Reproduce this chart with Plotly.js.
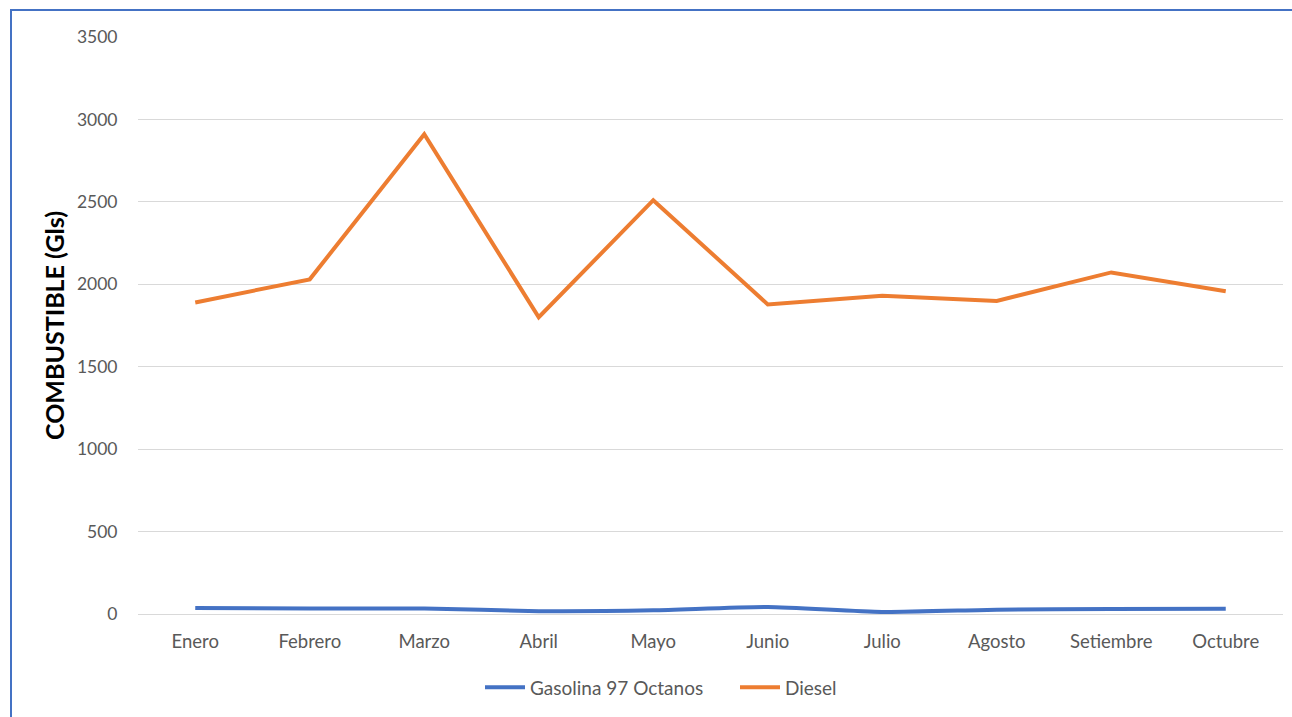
<!DOCTYPE html>
<html>
<head>
<meta charset="utf-8">
<script src="https://cdn.plot.ly/plotly-3.0.1.min.js"></script>
<style>
  html, body { margin: 0; padding: 0; background: #fff; }
  #wrap { position: relative; width: 1292px; height: 717px; overflow: hidden; }
  #chart { width: 1292px; height: 717px; }
  #frame { position: absolute; left: 10px; top: 9px; width: 1400px; height: 800px;
           border-left: 2px solid #4472C4; border-top: 2px solid #4472C4; pointer-events: none; }
</style>
</head>
<body>
<div id="wrap">
  <div id="chart"></div>
  <div id="frame"></div>
</div>
<script>
const months = ["Enero", "Febrero", "Marzo", "Abril", "Mayo", "Junio", "Julio", "Agosto", "Setiembre", "Octubre"];
const gasolina97 = [36, 33, 34, 17, 22, 42, 12, 26, 31, 32];
const diesel = [1890, 2030, 2910, 1800, 2510, 1878, 1930, 1899, 2072, 1958];
const yTicks = [0, 500, 1000, 1500, 2000, 2500, 3000, 3500];

const fontFam = "Lato, 'Open Sans', sans-serif";

const traces = [
  { x: months, y: gasolina97, name: "Gasolina 97 Octanos", type: "scatter", mode: "lines",
    line: { color: "#4472C4", width: 4, shape: "spline", smoothing: 0.6 } },
  { x: months, y: diesel, name: "Diesel", type: "scatter", mode: "lines",
    line: { color: "#ED7D31", width: 4 } }
];

const layout = {
  width: 1292, height: 717,
  margin: { l: 138, r: 9, t: 36.5, b: 102.5 },
  paper_bgcolor: "#ffffff", plot_bgcolor: "#ffffff",
  font: { family: fontFam, color: "#595959", size: 18 },
  showlegend: true,
  legend: { orientation: "h", x: 0.5214, xanchor: "center", y: -0.127, yanchor: "middle",
            font: { size: 19, color: "#595959", family: fontFam }, itemwidth: 40, tracegroupgap: 0,
            entrywidth: 200 },
  xaxis: {
    type: "category", range: [-0.5, 9.5], showgrid: false, zeroline: false,
    showline: false, ticks: "outside", ticklen: 11, tickcolor: "rgba(0,0,0,0)",
    tickfont: { size: 18.5, color: "#595959", family: fontFam }, fixedrange: true
  },
  yaxis: {
    range: [0, 3500], tickvals: yTicks, ticktext: yTicks.map(String),
    showgrid: true, gridcolor: "#d9d9d9", gridwidth: 1,
    zeroline: true, zerolinecolor: "#d9d9d9", zerolinewidth: 1,
    showline: false, ticks: "outside", ticklen: 16, tickcolor: "rgba(0,0,0,0)",
    tickfont: { size: 17.5, color: "#595959", family: fontFam },
    title: { text: "COMBUSTIBLE (Gls)", font: { size: 25, color: "#000000", family: fontFam, weight: "bold" }, standoff: 5 },
    fixedrange: true
  }
};

Plotly.newPlot("chart", traces, layout, { displayModeBar: false, staticPlot: true });
</script>
</body>
</html>
